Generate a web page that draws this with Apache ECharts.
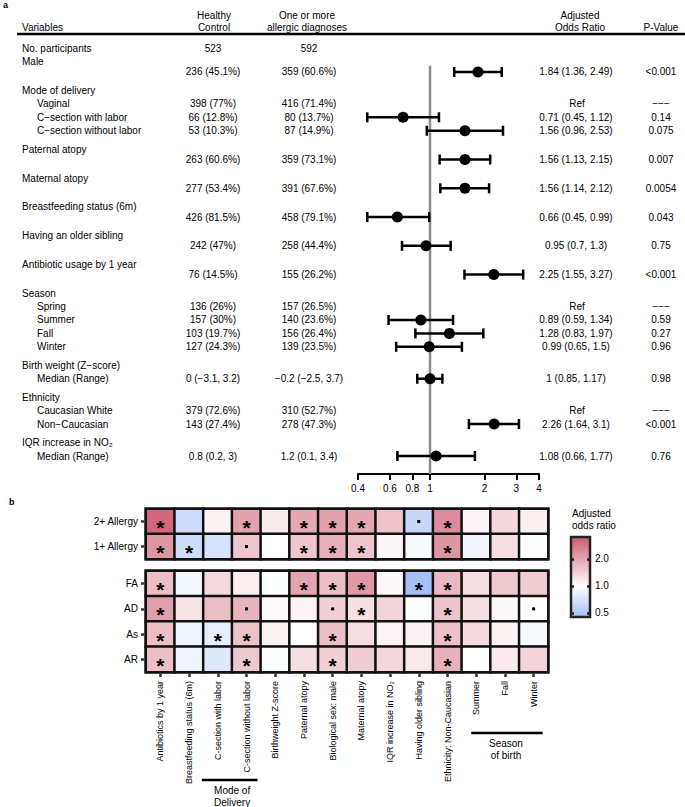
<!DOCTYPE html>
<html><head><meta charset="utf-8">
<script src="https://cdn.jsdelivr.net/npm/echarts@6/dist/echarts.min.js"></script>
<style>html,body{margin:0;padding:0;background:#fff}#c{width:685px;height:807px}</style>
</head><body><div id="c"></div>
<script>
// ================= Panel a: table + forest plot =================
const lineLabels = ['No. participants','Male','','Mode of delivery','Vaginal','C\u2212section with labor','C\u2212section without labor','Paternal atopy','','Maternal atopy','','Breastfeeding status (6m)','','Having an older sibling','','Antibiotic usage by 1 year','','Season','Spring','Summer','Fall','Winter','Birth weight (Z\u2212score)','Median (Range)','Ethnicity','Caucasian White','Non\u2212Caucasian','IQR increase in NO\u2082','Median (Range)'];
const lineKinds = ['single','head','value','head','sub','sub','sub','head','value','head','value','head','value','head','value','head','value','head','sub','sub','sub','sub','head','sub','head','sub','sub','head','sub'];
const healthyControl = ['523','','236 (45.1%)','','398 (77%)','66 (12.8%)','53 (10.3%)','','263 (60.6%)','','277 (53.4%)','','426 (81.5%)','','242 (47%)','','76 (14.5%)','','136 (26%)','157 (30%)','103 (19.7%)','127 (24.3%)','','0 (\u22123.1, 3.2)','','379 (72.6%)','143 (27.4%)','','0.8 (0.2, 3)'];
const allergicDx = ['592','','359 (60.6%)','','416 (71.4%)','80 (13.7%)','87 (14.9%)','','359 (73.1%)','','391 (67.6%)','','458 (79.1%)','','258 (44.4%)','','155 (26.2%)','','157 (26.5%)','140 (23.6%)','156 (26.4%)','139 (23.5%)','','\u22120.2 (\u22122.5, 3.7)','','310 (52.7%)','278 (47.3%)','','1.2 (0.1, 3.4)'];
const oddsRatio = [null,null,1.84,null,'Ref',0.71,1.56,null,1.56,null,1.56,null,0.66,null,0.95,null,2.25,null,'Ref',0.89,1.28,0.99,null,1,null,'Ref',2.26,null,1.08];
const ciLower   = [null,null,1.36,null,null,0.45,0.96,null,1.13,null,1.14,null,0.45,null,0.7,null,1.55,null,null,0.59,0.83,0.65,null,0.85,null,null,1.64,null,0.66];
const ciUpper   = [null,null,2.49,null,null,1.12,2.53,null,2.15,null,2.12,null,0.99,null,1.3,null,3.27,null,null,1.34,1.97,1.5,null,1.17,null,null,3.1,null,1.77];
const pValues   = ['','','<0.001','','\u2212\u2212\u2212','0.14','0.075','','0.007','','0.0054','','0.043','','0.75','','<0.001','','\u2212\u2212\u2212','0.59','0.27','0.96','','0.98','','\u2212\u2212\u2212','<0.001','','0.76'];
const forestTicks = [0.4,0.6,0.8,1,2,3,4];

// ================= Panel b: heatmap =================
const heatCols = ['Antibiotics by 1 year','Breastfeeding status (6m)','C-section with labor','C-section without labor','Birthweight Z-score','Paternal atopy','Biological sex: male','Maternal atopy','IQR increase in NO\u2082','Having older sibling','Ethnicity: Non-Caucasian','Summer','Fall','Winter'];
const topRows = ['2+ Allergy','1+ Allergy'];
const bottomRows = ['FA','AD','As','AR'];
const or2plus = [3.2,0.66,1.1,2.05,1.17,1.95,2.07,1.97,1.59,0.62,2.43,1.08,1.36,1.12];
const or1plus = [2.25,0.66,0.71,1.56,1.0,1.56,1.84,1.56,1.08,0.95,2.26,0.89,1.28,0.99];
const orFA = [1.63,0.91,1.33,1.14,0.99,2.0,1.64,2.19,1.05,0.47,1.72,1.28,1.51,1.47];
const orAD = [2.1,1.23,1.65,1.76,1.04,1.09,1.44,1.27,1.38,0.97,1.57,1.28,1.05,1.0];
const orAs = [1.63,0.88,0.82,1.58,1.1,1.0,1.63,1.3,1.09,1.1,1.62,1.33,1.1,0.93];
const orAR = [1.63,0.88,0.76,1.53,0.97,1.28,1.44,1.48,1.36,1.18,1.83,1.0,1.17,1.4];
const sig2plus = ['*','','','*','','*','*','*','','.','*','','',''];
const sig1plus = ['*','*','','.','','*','*','*','','','*','','',''];
const sigFA = ['*','','','','','*','*','*','','*','*','','',''];
const sigAD = ['*','','','.','','','.','*','','','*','','','.'];
const sigAs = ['*','','*','*','','','*','','','','*','','',''];
const sigAR = ['*','','','*','','','*','','','','*','','',''];
const colorbarTicks = [0.5,1.0,2.0];

// ---------------- helpers ----------------
const FONT = '"Liberation Sans", Arial, Helvetica, sans-serif';
const L10 = Math.log10, L2 = Math.log2;
const LMIN = L2(0.45), LMAX = L2(3.5);
const BLUE=[160,188,247], RED=[205,92,112], WHITE=[255,255,255];
function colorAt(v){
  let c;
  if (v < 0) { const t=Math.min(1,v/LMIN); c=WHITE.map((w,i)=>w+(BLUE[i]-w)*t); }
  else { const t=Math.min(1,v/LMAX); c=WHITE.map((w,i)=>w+(RED[i]-w)*t); }
  return 'rgb('+c.map(Math.round).join(',')+')';
}
const rampColors = []; for (let i=0;i<=80;i++) rampColors.push(colorAt(LMIN+(LMAX-LMIN)*i/80));

// vertical spacing of table lines (in line units)
const GAP = {single:1.0, head:1.35, value:0.75, sub:0.98};
const linePos = []; { let p=0; lineKinds.forEach((k,i)=>{ if(i>0) p += (k==='head' && lineKinds[i-1]==='single') ? 1.0 : GAP[k]; linePos.push(p); }); }
const lastPos = linePos[linePos.length-1];
const forestTop = 48, forestBottom = 474, lastTextY = 456;
const yMax = lastPos * (forestBottom-forestTop)/(lastTextY-forestTop);
const unitPx = (lastTextY-forestTop)/lastPos;

const ebData=[], ptData=[];
oddsRatio.forEach((v,i)=>{ if(typeof v==='number'){ ebData.push([L10(ciLower[i]),L10(ciUpper[i]),linePos[i]]); ptData.push([L10(v),linePos[i]]); }});

function heat(rows){ const d=[]; rows.forEach((r,yi)=>r.forEach((v,xi)=>d.push([xi,yi,L2(v)]))); return d; }
function marks(rows, ch){ const d=[]; rows.forEach((r,yi)=>r.forEach((v,xi)=>{ if(v===ch) d.push([xi,yi]); })); return d; }
const topOR=[or2plus,or1plus], botOR=[orFA,orAD,orAs,orAR];
const topSig=[sig2plus,sig1plus], botSig=[sigFA,sigAD,sigAs,sigAR];

const tickLog = forestTicks.map(L10);
const heatX = (gi, show) => ({
  type:'category', gridIndex:gi, data:heatCols, axisLine:{show:false}, splitLine:{show:false},
  offset:2,
  axisTick:{show:show, alignWithLabel:true, length:3, lineStyle:{color:'#333', width:2.5}},
  axisLabel:{show:show, rotate:90, interval:0, fontSize:9, fontFamily:FONT, color:'#000', margin:7}
});
const heatY = (gi, rows) => ({
  type:'category', gridIndex:gi, data:rows, inverse:true, axisLine:{show:false}, offset:2,
  axisTick:{show:true, alignWithLabel:true, length:3, lineStyle:{color:'#333', width:2.5}},
  axisLabel:{fontSize:10, fontFamily:FONT, color:'#000', margin:6}
});
const starSeries = (xi, yi, data) => ({
  type:'scatter', xAxisIndex:xi, yAxisIndex:yi, data, symbolSize:1, z:6, silent:true,
  itemStyle:{color:'rgba(0,0,0,0)', opacity:1},
  label:{show:true, position:'inside', formatter:'*', fontSize:21, fontWeight:'bold', fontFamily:FONT, color:'#000', opacity:1, offset:[0,6]}
});
const dotSeries = (xi, yi, data) => ({
  type:'scatter', xAxisIndex:xi, yAxisIndex:yi, data, symbol:'rect', symbolSize:3, z:6, silent:true,
  itemStyle:{color:'#000', opacity:1}
});

const chart = echarts.init(document.getElementById('c'), null, {renderer:'svg'});
const option = {
  animation:false,
  backgroundColor:'#fff',
  textStyle:{fontFamily:FONT},
  grid:[
    {left:358, top:forestTop, width:181, height:forestBottom-forestTop},
    {left:146, top:509, width:402, height:50, show:true, borderColor:'#111', borderWidth:3, backgroundColor:'transparent'},
    {left:146, top:571, width:402, height:101, show:true, borderColor:'#111', borderWidth:3, backgroundColor:'transparent'},
    {left:571, top:537, width:19, height:80}
  ],
  xAxis:[
    {type:'value', gridIndex:0, min:L10(0.4), max:L10(4), splitLine:{show:false},
     axisLine:{show:true, onZero:false, lineStyle:{color:'#000', width:2}},
     axisTick:{show:true, customValues:tickLog, length:6, lineStyle:{color:'#000', width:2}},
     axisLabel:{customValues:tickLog, formatter:v=>String(+Math.pow(10,v).toFixed(1)), fontSize:10, fontFamily:FONT, color:'#000', margin:9}},
    heatX(1,false),
    heatX(2,true),
    {type:'value', gridIndex:3, min:0, max:1, show:false}
  ],
  yAxis:[
    {type:'value', gridIndex:0, min:0, max:yMax, inverse:true, show:false},
    heatY(1, topRows),
    heatY(2, bottomRows),
    {type:'value', gridIndex:3, min:LMIN, max:LMAX, position:'left', z:10, splitLine:{show:false},
     axisLine:{show:false}, axisLabel:{show:false},
     axisTick:{show:true, inside:true, length:3, customValues:colorbarTicks.map(L2), lineStyle:{color:'#222', width:2.5}}},
    {type:'value', gridIndex:3, min:LMIN, max:LMAX, position:'right', z:10, splitLine:{show:false},
     axisLine:{show:false},
     axisTick:{show:true, inside:true, length:3, customValues:colorbarTicks.map(L2), lineStyle:{color:'#222', width:2.5}},
     axisLabel:{show:true, customValues:colorbarTicks.map(L2), formatter:v=>Math.pow(2,v).toFixed(1), fontSize:10, fontFamily:FONT, color:'#000', margin:5}}
  ],
  visualMap:[{type:'continuous', show:false, seriesIndex:[3,4], dimension:2, min:LMIN, max:LMAX, inRange:{color:rampColors}}],
  series:[
    {type:'line', xAxisIndex:0, yAxisIndex:0, data:[[0,linePos[1]+4/unitPx],[0,yMax]], symbol:'none', z:1, silent:true,
     lineStyle:{color:'#8c8c8c', width:2.5}},
    {type:'custom', xAxisIndex:0, yAxisIndex:0, data:ebData, z:2, silent:true,
     encode:{x:[0,1], y:2},
     renderItem:(params, api)=>{
       const a=api.coord([api.value(0),api.value(2)]), b=api.coord([api.value(1),api.value(2)]), h=5;
       const st={stroke:'#000', lineWidth:2.5};
       return {type:'group', children:[
         {type:'line', shape:{x1:a[0],y1:a[1],x2:b[0],y2:b[1]}, style:st},
         {type:'line', shape:{x1:a[0],y1:a[1]-h,x2:a[0],y2:a[1]+h}, style:st},
         {type:'line', shape:{x1:b[0],y1:b[1]-h,x2:b[0],y2:b[1]+h}, style:st}]};
     }},
    {type:'scatter', xAxisIndex:0, yAxisIndex:0, data:ptData, symbolSize:11, z:3, silent:true, itemStyle:{color:'#000', opacity:1}},
    {type:'heatmap', xAxisIndex:1, yAxisIndex:1, data:heat(topOR), silent:true,
     itemStyle:{borderColor:'#111', borderWidth:2.5}, emphasis:{disabled:true}},
    {type:'heatmap', xAxisIndex:2, yAxisIndex:2, data:heat(botOR), silent:true,
     itemStyle:{borderColor:'#111', borderWidth:2.5}, emphasis:{disabled:true}},
    starSeries(1,1,marks(topSig,'*')), dotSeries(1,1,marks(topSig,'.')),
    starSeries(2,2,marks(botSig,'*')), dotSeries(2,2,marks(botSig,'.')),
    {type:'custom', xAxisIndex:3, yAxisIndex:3, data:[[0]], z:2, silent:true,
     renderItem:(params, api)=>{
       const n=60, ch=[];
       for(let i=0;i<n;i++){
         const v0=LMIN+(LMAX-LMIN)*i/n, v1=LMIN+(LMAX-LMIN)*(i+1)/n;
         const p0=api.coord([0,v0]), p1=api.coord([1,v1]);
         ch.push({type:'rect', shape:{x:p0[0], y:p1[1], width:p1[0]-p0[0], height:p0[1]-p1[1]+0.6}, style:{fill:colorAt((v0+v1)/2)}});
       }
       const t=api.coord([0,LMAX]), b=api.coord([1,LMIN]);
       ch.push({type:'rect', shape:{x:t[0], y:t[1], width:b[0]-t[0], height:b[1]-t[1]}, style:{fill:'none', stroke:'#222', lineWidth:2.5}});
       return {type:'group', children:ch};
     }}
  ]
};
chart.setOption(option);

// ---------------- text table + annotations ----------------
const g = [];
const T = (text, x, y, align, size, weight) => g.push({type:'text', x, y, silent:true,
  style:{text, fill:'#000', align:align||'left', verticalAlign:'middle', font:(weight||'normal')+' '+(size||10)+'px '+FONT}});
T('a', 3, 5, 'left', 9, 'bold');
T('b', 9, 502, 'left', 9, 'bold');
T('Variables', 22, 27);
T('Healthy', 214, 15, 'center'); T('Control', 214, 27, 'center');
T('One or more', 307, 15, 'center'); T('allergic diagnoses', 307, 27, 'center');
T('Adjusted', 580, 15, 'center'); T('Odds Ratio', 580, 27, 'center');
T('P-Value', 661, 27, 'center');
g.push({type:'line', silent:true, shape:{x1:17,y1:34,x2:685,y2:34}, style:{stroke:'#000', lineWidth:2.5}});
const yPx = linePos.map(p=>chart.convertToPixel({gridIndex:0},[0,p])[1]);
lineLabels.forEach((lab,i)=>{
  const y=yPx[i];
  if (lab) T(lab, lineKinds[i]==='sub'?37:22, y);
  if (healthyControl[i]) T(healthyControl[i], 213, y, 'center');
  if (allergicDx[i]) T(allergicDx[i], 309, y, 'center');
  const o=oddsRatio[i];
  if (o==='Ref') T('Ref', 577, y, 'center');
  else if (typeof o==='number') T(o+' ('+ciLower[i]+', '+ciUpper[i]+')', 576, y, 'center');
  if (pValues[i]) T(pValues[i], 661, y, 'center');
});
// group brackets under heatmap
const cx = i => chart.convertToPixel({gridIndex:2},[i,0])[0];
g.push({type:'line', silent:true, shape:{x1:cx(2)-16,y1:780,x2:cx(3)+11,y2:780}, style:{stroke:'#000', lineWidth:2.5}});
T('Mode of', (cx(2)+cx(3))/2, 790, 'center'); T('Delivery', (cx(2)+cx(3))/2, 802, 'center');
g.push({type:'line', silent:true, shape:{x1:cx(11)-5,y1:733,x2:cx(13)+9,y2:733}, style:{stroke:'#000', lineWidth:2.5}});
T('Season', cx(12)+1, 743, 'center'); T('of birth', cx(12)+1, 755, 'center');
// legend title
T('Adjusted', 572, 513); T('odds ratio', 572, 525);
chart.setOption({graphic:g});
</script></body></html>
